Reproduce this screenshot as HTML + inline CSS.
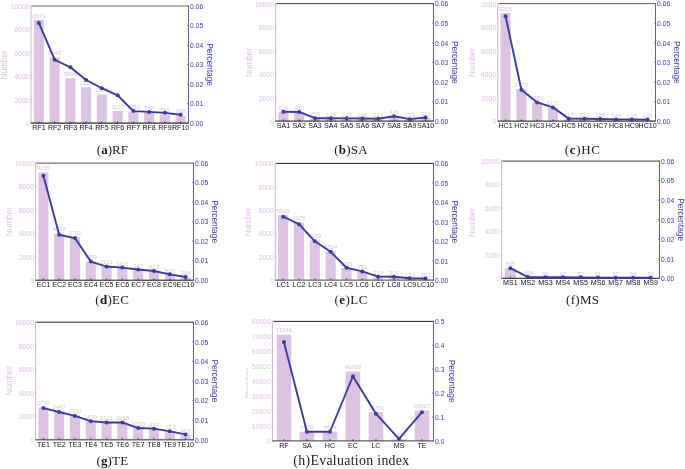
<!DOCTYPE html>
<html><head><meta charset="utf-8"><title>Evaluation index charts</title>
<style>
html,body{margin:0;padding:0;background:#fff;}
body{width:685px;height:469px;overflow:hidden;}
svg{display:block;font-family:"Liberation Sans", sans-serif;will-change:transform;}
</style></head><body>
<svg width="685" height="469" viewBox="0 0 685 469">
<rect width="685" height="469" fill="#fff"/>
<g>
<rect x="33.87" y="19.84" width="10" height="103.36" fill="#dcc3e2"/>
<rect x="49.62" y="57.69" width="10" height="65.51" fill="#dcc3e2"/>
<rect x="65.37" y="78.24" width="10" height="44.96" fill="#dcc3e2"/>
<rect x="81.12" y="87.25" width="10" height="35.95" fill="#dcc3e2"/>
<rect x="96.87" y="94.54" width="10" height="28.66" fill="#dcc3e2"/>
<rect x="112.62" y="110.97" width="10" height="12.23" fill="#dcc3e2"/>
<rect x="128.37" y="111.59" width="10" height="11.61" fill="#dcc3e2"/>
<rect x="144.12" y="112.79" width="10" height="10.41" fill="#dcc3e2"/>
<rect x="159.87" y="114.73" width="10" height="8.47" fill="#dcc3e2"/>
<rect x="175.62" y="115.74" width="10" height="7.46" fill="#dcc3e2"/>
<text x="38.88" y="17.54" font-size="5.9" fill="#dcc3e2" text-anchor="middle">8879</text>
<text x="54.62" y="55.39" font-size="5.9" fill="#dcc3e2" text-anchor="middle">5649</text>
<text x="70.38" y="75.94" font-size="5.9" fill="#dcc3e2" text-anchor="middle">3896</text>
<text x="86.12" y="84.95" font-size="5.9" fill="#dcc3e2" text-anchor="middle">3127</text>
<text x="101.88" y="92.24" font-size="5.9" fill="#dcc3e2" text-anchor="middle">2505</text>
<text x="117.62" y="108.67" font-size="5.9" fill="#dcc3e2" text-anchor="middle">1103</text>
<text x="133.38" y="109.29" font-size="5.9" fill="#dcc3e2" text-anchor="middle">1050</text>
<text x="149.12" y="110.49" font-size="5.9" fill="#dcc3e2" text-anchor="middle">948</text>
<text x="164.88" y="112.43" font-size="5.9" fill="#dcc3e2" text-anchor="middle">782</text>
<text x="180.62" y="113.44" font-size="5.9" fill="#dcc3e2" text-anchor="middle">696</text>
<line x1="31" y1="6" x2="188.5" y2="6" stroke="#6a6a6a" stroke-width="1.2"/>
<line x1="31" y1="5.5" x2="31" y2="123.7" stroke="#d0b8d6" stroke-width="1.1"/>
<line x1="31" y1="123.2" x2="32.5" y2="123.2" stroke="#d0b8d6" stroke-width="0.7"/>
<line x1="31" y1="99.76" x2="32.5" y2="99.76" stroke="#d0b8d6" stroke-width="0.7"/>
<line x1="31" y1="76.32" x2="32.5" y2="76.32" stroke="#d0b8d6" stroke-width="0.7"/>
<line x1="31" y1="52.88" x2="32.5" y2="52.88" stroke="#d0b8d6" stroke-width="0.7"/>
<line x1="31" y1="29.44" x2="32.5" y2="29.44" stroke="#d0b8d6" stroke-width="0.7"/>
<line x1="31" y1="6" x2="32.5" y2="6" stroke="#d0b8d6" stroke-width="0.7"/>
<line x1="31" y1="123.2" x2="188.5" y2="123.2" stroke="#2a2a2a" stroke-width="1.2"/>
<line x1="38.88" y1="123.2" x2="38.88" y2="121.4" stroke="#111" stroke-width="0.6"/>
<line x1="54.62" y1="123.2" x2="54.62" y2="121.4" stroke="#111" stroke-width="0.6"/>
<line x1="70.38" y1="123.2" x2="70.38" y2="121.4" stroke="#111" stroke-width="0.6"/>
<line x1="86.12" y1="123.2" x2="86.12" y2="121.4" stroke="#111" stroke-width="0.6"/>
<line x1="101.88" y1="123.2" x2="101.88" y2="121.4" stroke="#111" stroke-width="0.6"/>
<line x1="117.62" y1="123.2" x2="117.62" y2="121.4" stroke="#111" stroke-width="0.6"/>
<line x1="133.38" y1="123.2" x2="133.38" y2="121.4" stroke="#111" stroke-width="0.6"/>
<line x1="149.12" y1="123.2" x2="149.12" y2="121.4" stroke="#111" stroke-width="0.6"/>
<line x1="164.88" y1="123.2" x2="164.88" y2="121.4" stroke="#111" stroke-width="0.6"/>
<line x1="180.62" y1="123.2" x2="180.62" y2="121.4" stroke="#111" stroke-width="0.6"/>
<line x1="188.5" y1="5.5" x2="188.5" y2="123.7" stroke="#5656ad" stroke-width="0.95"/>
<line x1="187.1" y1="123.2" x2="188.5" y2="123.2" stroke="#5656ad" stroke-width="0.7"/>
<line x1="187.1" y1="103.67" x2="188.5" y2="103.67" stroke="#5656ad" stroke-width="0.7"/>
<line x1="187.1" y1="84.13" x2="188.5" y2="84.13" stroke="#5656ad" stroke-width="0.7"/>
<line x1="187.1" y1="64.6" x2="188.5" y2="64.6" stroke="#5656ad" stroke-width="0.7"/>
<line x1="187.1" y1="45.07" x2="188.5" y2="45.07" stroke="#5656ad" stroke-width="0.7"/>
<line x1="187.1" y1="25.53" x2="188.5" y2="25.53" stroke="#5656ad" stroke-width="0.7"/>
<line x1="187.1" y1="6" x2="188.5" y2="6" stroke="#5656ad" stroke-width="0.7"/>
<polyline fill="none" stroke="#3b3b9e" stroke-width="1.9" stroke-linejoin="round" points="38.88,22.95 54.62,59.74 70.38,67.31 86.12,80.03 101.88,88.24 117.62,95.27 133.38,111.08 149.12,111.88 164.88,112.85 180.62,114.8"/>
<circle cx="38.88" cy="22.95" r="2" fill="#3b3b9e"/>
<circle cx="54.62" cy="59.74" r="2" fill="#3b3b9e"/>
<circle cx="70.38" cy="67.31" r="2" fill="#3b3b9e"/>
<circle cx="86.12" cy="80.03" r="2" fill="#3b3b9e"/>
<circle cx="101.88" cy="88.24" r="2" fill="#3b3b9e"/>
<circle cx="117.62" cy="95.27" r="2" fill="#3b3b9e"/>
<circle cx="133.38" cy="111.08" r="2" fill="#3b3b9e"/>
<circle cx="149.12" cy="111.88" r="2" fill="#3b3b9e"/>
<circle cx="164.88" cy="112.85" r="2" fill="#3b3b9e"/>
<circle cx="180.62" cy="114.8" r="2" fill="#3b3b9e"/>
<g font-size="6.9" fill="#dcc3e2" text-anchor="end">
<text x="29.6" y="126.1">0</text>
<text x="29.6" y="102.66">2000</text>
<text x="29.6" y="79.22">4000</text>
<text x="29.6" y="55.78">6000</text>
<text x="29.6" y="32.34">8000</text>
<text x="29.6" y="8.9">10000</text>
</g>
<g font-size="6.7" fill="#3b3b9e">
<text x="190.1" y="126">0.00</text>
<text x="190.1" y="106.47">0.01</text>
<text x="190.1" y="86.93">0.02</text>
<text x="190.1" y="67.4">0.03</text>
<text x="190.1" y="47.87">0.04</text>
<text x="190.1" y="28.33">0.05</text>
<text x="190.1" y="8.8">0.06</text>
</g>
<g font-size="7.1" fill="#111" text-anchor="middle">
<text x="38.88" y="130">RF1</text>
<text x="54.62" y="130">RF2</text>
<text x="70.38" y="130">RF3</text>
<text x="86.12" y="130">RF4</text>
<text x="101.88" y="130">RF5</text>
<text x="117.62" y="130">RF6</text>
<text x="133.38" y="130">RF7</text>
<text x="149.12" y="130">RF8</text>
<text x="164.88" y="130">RF9</text>
<text x="180.62" y="130">RF10</text>
</g>
<text transform="translate(7,64.6) rotate(-90)" font-size="8.2" fill="#dcc3e2" text-anchor="middle">Number</text>
<text transform="translate(207,64.6) rotate(90)" font-size="8.4" fill="#3b3b9e" text-anchor="middle">Percentage</text>
</g>
<g>
<rect x="278.38" y="112.16" width="10.03" height="8.94" fill="#dcc3e2"/>
<rect x="294.18" y="112.28" width="10.03" height="8.82" fill="#dcc3e2"/>
<rect x="309.98" y="118.77" width="10.03" height="2.33" fill="#dcc3e2"/>
<rect x="325.78" y="118.89" width="10.03" height="2.21" fill="#dcc3e2"/>
<rect x="341.58" y="118.94" width="10.03" height="2.16" fill="#dcc3e2"/>
<rect x="357.38" y="119.04" width="10.03" height="2.06" fill="#dcc3e2"/>
<rect x="373.18" y="119.3" width="10.03" height="1.8" fill="#dcc3e2"/>
<rect x="388.98" y="116.79" width="10.03" height="4.31" fill="#dcc3e2"/>
<rect x="404.78" y="119.79" width="10.03" height="1.31" fill="#dcc3e2"/>
<rect x="420.58" y="118.13" width="10.03" height="2.97" fill="#dcc3e2"/>
<text x="283.4" y="109.86" font-size="5.9" fill="#dcc3e2" text-anchor="middle">820</text>
<text x="299.2" y="109.98" font-size="5.9" fill="#dcc3e2" text-anchor="middle">810</text>
<text x="315" y="116.47" font-size="5.9" fill="#dcc3e2" text-anchor="middle">258</text>
<text x="330.8" y="116.59" font-size="5.9" fill="#dcc3e2" text-anchor="middle">248</text>
<text x="346.6" y="116.64" font-size="5.9" fill="#dcc3e2" text-anchor="middle">243</text>
<text x="362.4" y="116.74" font-size="5.9" fill="#dcc3e2" text-anchor="middle">235</text>
<text x="378.2" y="117" font-size="5.9" fill="#dcc3e2" text-anchor="middle">213</text>
<text x="394" y="114.49" font-size="5.9" fill="#dcc3e2" text-anchor="middle">426</text>
<text x="409.8" y="117.49" font-size="5.9" fill="#dcc3e2" text-anchor="middle">171</text>
<text x="425.6" y="115.83" font-size="5.9" fill="#dcc3e2" text-anchor="middle">312</text>
<line x1="275.5" y1="3.6" x2="433.5" y2="3.6" stroke="#3a3a3a" stroke-width="1"/>
<line x1="275.5" y1="3.1" x2="275.5" y2="121.6" stroke="#d0b8d6" stroke-width="1.1"/>
<line x1="275.5" y1="121.1" x2="277" y2="121.1" stroke="#d0b8d6" stroke-width="0.7"/>
<line x1="275.5" y1="97.6" x2="277" y2="97.6" stroke="#d0b8d6" stroke-width="0.7"/>
<line x1="275.5" y1="74.1" x2="277" y2="74.1" stroke="#d0b8d6" stroke-width="0.7"/>
<line x1="275.5" y1="50.6" x2="277" y2="50.6" stroke="#d0b8d6" stroke-width="0.7"/>
<line x1="275.5" y1="27.1" x2="277" y2="27.1" stroke="#d0b8d6" stroke-width="0.7"/>
<line x1="275.5" y1="3.6" x2="277" y2="3.6" stroke="#d0b8d6" stroke-width="0.7"/>
<line x1="275.5" y1="121.1" x2="433.5" y2="121.1" stroke="#111" stroke-width="1"/>
<line x1="283.4" y1="121.1" x2="283.4" y2="119.3" stroke="#111" stroke-width="0.6"/>
<line x1="299.2" y1="121.1" x2="299.2" y2="119.3" stroke="#111" stroke-width="0.6"/>
<line x1="315" y1="121.1" x2="315" y2="119.3" stroke="#111" stroke-width="0.6"/>
<line x1="330.8" y1="121.1" x2="330.8" y2="119.3" stroke="#111" stroke-width="0.6"/>
<line x1="346.6" y1="121.1" x2="346.6" y2="119.3" stroke="#111" stroke-width="0.6"/>
<line x1="362.4" y1="121.1" x2="362.4" y2="119.3" stroke="#111" stroke-width="0.6"/>
<line x1="378.2" y1="121.1" x2="378.2" y2="119.3" stroke="#111" stroke-width="0.6"/>
<line x1="394" y1="121.1" x2="394" y2="119.3" stroke="#111" stroke-width="0.6"/>
<line x1="409.8" y1="121.1" x2="409.8" y2="119.3" stroke="#111" stroke-width="0.6"/>
<line x1="425.6" y1="121.1" x2="425.6" y2="119.3" stroke="#111" stroke-width="0.6"/>
<line x1="433.5" y1="3.1" x2="433.5" y2="121.6" stroke="#5656ad" stroke-width="0.95"/>
<line x1="432.1" y1="121.1" x2="433.5" y2="121.1" stroke="#5656ad" stroke-width="0.7"/>
<line x1="432.1" y1="101.52" x2="433.5" y2="101.52" stroke="#5656ad" stroke-width="0.7"/>
<line x1="432.1" y1="81.93" x2="433.5" y2="81.93" stroke="#5656ad" stroke-width="0.7"/>
<line x1="432.1" y1="62.35" x2="433.5" y2="62.35" stroke="#5656ad" stroke-width="0.7"/>
<line x1="432.1" y1="42.77" x2="433.5" y2="42.77" stroke="#5656ad" stroke-width="0.7"/>
<line x1="432.1" y1="23.18" x2="433.5" y2="23.18" stroke="#5656ad" stroke-width="0.7"/>
<line x1="432.1" y1="3.6" x2="433.5" y2="3.6" stroke="#5656ad" stroke-width="0.7"/>
<polyline fill="none" stroke="#3b3b9e" stroke-width="1.9" stroke-linejoin="round" points="283.4,111.82 299.2,111.93 315,118.18 330.8,118.29 346.6,118.35 362.4,118.44 378.2,118.69 394,116.28 409.8,119.16 425.6,117.57"/>
<circle cx="283.4" cy="111.82" r="2" fill="#3b3b9e"/>
<circle cx="299.2" cy="111.93" r="2" fill="#3b3b9e"/>
<circle cx="315" cy="118.18" r="2" fill="#3b3b9e"/>
<circle cx="330.8" cy="118.29" r="2" fill="#3b3b9e"/>
<circle cx="346.6" cy="118.35" r="2" fill="#3b3b9e"/>
<circle cx="362.4" cy="118.44" r="2" fill="#3b3b9e"/>
<circle cx="378.2" cy="118.69" r="2" fill="#3b3b9e"/>
<circle cx="394" cy="116.28" r="2" fill="#3b3b9e"/>
<circle cx="409.8" cy="119.16" r="2" fill="#3b3b9e"/>
<circle cx="425.6" cy="117.57" r="2" fill="#3b3b9e"/>
<g font-size="6.9" fill="#dcc3e2" text-anchor="end">
<text x="274.1" y="124">0</text>
<text x="274.1" y="100.5">2000</text>
<text x="274.1" y="77">4000</text>
<text x="274.1" y="53.5">6000</text>
<text x="274.1" y="30">8000</text>
<text x="274.1" y="6.5">10000</text>
</g>
<g font-size="6.7" fill="#3b3b9e">
<text x="435.1" y="123.9">0.00</text>
<text x="435.1" y="104.32">0.01</text>
<text x="435.1" y="84.73">0.02</text>
<text x="435.1" y="65.15">0.03</text>
<text x="435.1" y="45.57">0.04</text>
<text x="435.1" y="25.98">0.05</text>
<text x="435.1" y="6.4">0.06</text>
</g>
<g font-size="7.1" fill="#111" text-anchor="middle">
<text x="283.4" y="127.9">SA1</text>
<text x="299.2" y="127.9">SA2</text>
<text x="315" y="127.9">SA3</text>
<text x="330.8" y="127.9">SA4</text>
<text x="346.6" y="127.9">SA5</text>
<text x="362.4" y="127.9">SA6</text>
<text x="378.2" y="127.9">SA7</text>
<text x="394" y="127.9">SA8</text>
<text x="409.8" y="127.9">SA9</text>
<text x="425.6" y="127.9">SA10</text>
</g>
<text transform="translate(251.5,62.35) rotate(-90)" font-size="8.2" fill="#dcc3e2" text-anchor="middle">Number</text>
<text transform="translate(452,62.35) rotate(90)" font-size="8.4" fill="#3b3b9e" text-anchor="middle">Percentage</text>
</g>
<clipPath id="clc"><rect x="480.6" y="0" width="300" height="469"/></clipPath>
<g>
<rect x="500.58" y="13.05" width="10.02" height="108.05" fill="#dcc3e2"/>
<rect x="516.36" y="89.19" width="10.02" height="31.91" fill="#dcc3e2"/>
<rect x="532.14" y="102.38" width="10.02" height="18.72" fill="#dcc3e2"/>
<rect x="547.92" y="107.57" width="10.02" height="13.53" fill="#dcc3e2"/>
<rect x="563.7" y="119.25" width="10.02" height="1.85" fill="#dcc3e2"/>
<rect x="579.48" y="119.31" width="10.02" height="1.79" fill="#dcc3e2"/>
<rect x="595.26" y="119.69" width="10.02" height="1.41" fill="#dcc3e2"/>
<rect x="611.04" y="120.06" width="10.02" height="1.04" fill="#dcc3e2"/>
<rect x="626.82" y="120.21" width="10.02" height="0.89" fill="#dcc3e2"/>
<rect x="642.6" y="120.24" width="10.02" height="0.86" fill="#dcc3e2"/>
<text x="505.59" y="10.75" font-size="5.9" fill="#dcc3e2" text-anchor="middle">9255</text>
<text x="521.37" y="86.89" font-size="5.9" fill="#dcc3e2" text-anchor="middle">2775</text>
<text x="537.15" y="100.08" font-size="5.9" fill="#dcc3e2" text-anchor="middle">1653</text>
<text x="552.93" y="105.27" font-size="5.9" fill="#dcc3e2" text-anchor="middle">1211</text>
<text x="568.71" y="116.95" font-size="5.9" fill="#dcc3e2" text-anchor="middle">217</text>
<text x="584.49" y="117.01" font-size="5.9" fill="#dcc3e2" text-anchor="middle">212</text>
<text x="600.27" y="117.39" font-size="5.9" fill="#dcc3e2" text-anchor="middle">180</text>
<text x="616.05" y="117.76" font-size="5.9" fill="#dcc3e2" text-anchor="middle">148</text>
<text x="631.83" y="117.91" font-size="5.9" fill="#dcc3e2" text-anchor="middle">135</text>
<text x="647.61" y="117.94" font-size="5.9" fill="#dcc3e2" text-anchor="middle">133</text>
<line x1="497.7" y1="3.6" x2="655.5" y2="3.6" stroke="#555" stroke-width="1"/>
<line x1="497.7" y1="3.1" x2="497.7" y2="121.6" stroke="#d0b8d6" stroke-width="1.1"/>
<line x1="497.7" y1="121.1" x2="499.2" y2="121.1" stroke="#d0b8d6" stroke-width="0.7"/>
<line x1="497.7" y1="97.6" x2="499.2" y2="97.6" stroke="#d0b8d6" stroke-width="0.7"/>
<line x1="497.7" y1="74.1" x2="499.2" y2="74.1" stroke="#d0b8d6" stroke-width="0.7"/>
<line x1="497.7" y1="50.6" x2="499.2" y2="50.6" stroke="#d0b8d6" stroke-width="0.7"/>
<line x1="497.7" y1="27.1" x2="499.2" y2="27.1" stroke="#d0b8d6" stroke-width="0.7"/>
<line x1="497.7" y1="3.6" x2="499.2" y2="3.6" stroke="#d0b8d6" stroke-width="0.7"/>
<line x1="497.7" y1="121.1" x2="655.5" y2="121.1" stroke="#111" stroke-width="1"/>
<line x1="505.59" y1="121.1" x2="505.59" y2="119.3" stroke="#111" stroke-width="0.6"/>
<line x1="521.37" y1="121.1" x2="521.37" y2="119.3" stroke="#111" stroke-width="0.6"/>
<line x1="537.15" y1="121.1" x2="537.15" y2="119.3" stroke="#111" stroke-width="0.6"/>
<line x1="552.93" y1="121.1" x2="552.93" y2="119.3" stroke="#111" stroke-width="0.6"/>
<line x1="568.71" y1="121.1" x2="568.71" y2="119.3" stroke="#111" stroke-width="0.6"/>
<line x1="584.49" y1="121.1" x2="584.49" y2="119.3" stroke="#111" stroke-width="0.6"/>
<line x1="600.27" y1="121.1" x2="600.27" y2="119.3" stroke="#111" stroke-width="0.6"/>
<line x1="616.05" y1="121.1" x2="616.05" y2="119.3" stroke="#111" stroke-width="0.6"/>
<line x1="631.83" y1="121.1" x2="631.83" y2="119.3" stroke="#111" stroke-width="0.6"/>
<line x1="647.61" y1="121.1" x2="647.61" y2="119.3" stroke="#111" stroke-width="0.6"/>
<line x1="655.5" y1="3.1" x2="655.5" y2="121.6" stroke="#5656ad" stroke-width="0.95"/>
<line x1="654.1" y1="121.1" x2="655.5" y2="121.1" stroke="#5656ad" stroke-width="0.7"/>
<line x1="654.1" y1="101.52" x2="655.5" y2="101.52" stroke="#5656ad" stroke-width="0.7"/>
<line x1="654.1" y1="81.93" x2="655.5" y2="81.93" stroke="#5656ad" stroke-width="0.7"/>
<line x1="654.1" y1="62.35" x2="655.5" y2="62.35" stroke="#5656ad" stroke-width="0.7"/>
<line x1="654.1" y1="42.77" x2="655.5" y2="42.77" stroke="#5656ad" stroke-width="0.7"/>
<line x1="654.1" y1="23.18" x2="655.5" y2="23.18" stroke="#5656ad" stroke-width="0.7"/>
<line x1="654.1" y1="3.6" x2="655.5" y2="3.6" stroke="#5656ad" stroke-width="0.7"/>
<polyline fill="none" stroke="#3b3b9e" stroke-width="1.9" stroke-linejoin="round" points="505.59,16.33 521.37,89.69 537.15,102.39 552.93,107.39 568.71,118.64 584.49,118.7 600.27,119.06 616.05,119.42 631.83,119.57 647.61,119.59"/>
<circle cx="505.59" cy="16.33" r="2" fill="#3b3b9e"/>
<circle cx="521.37" cy="89.69" r="2" fill="#3b3b9e"/>
<circle cx="537.15" cy="102.39" r="2" fill="#3b3b9e"/>
<circle cx="552.93" cy="107.39" r="2" fill="#3b3b9e"/>
<circle cx="568.71" cy="118.64" r="2" fill="#3b3b9e"/>
<circle cx="584.49" cy="118.7" r="2" fill="#3b3b9e"/>
<circle cx="600.27" cy="119.06" r="2" fill="#3b3b9e"/>
<circle cx="616.05" cy="119.42" r="2" fill="#3b3b9e"/>
<circle cx="631.83" cy="119.57" r="2" fill="#3b3b9e"/>
<circle cx="647.61" cy="119.59" r="2" fill="#3b3b9e"/>
<g font-size="6.9" fill="#dcc3e2" text-anchor="end" clip-path="url(#clc)">
<text x="496.3" y="124">0</text>
<text x="496.3" y="100.5">2000</text>
<text x="496.3" y="77">4000</text>
<text x="496.3" y="53.5">6000</text>
<text x="496.3" y="30">8000</text>
<text x="496.3" y="6.5">10000</text>
</g>
<g font-size="6.7" fill="#3b3b9e">
<text x="657.1" y="123.9">0.00</text>
<text x="657.1" y="104.32">0.01</text>
<text x="657.1" y="84.73">0.02</text>
<text x="657.1" y="65.15">0.03</text>
<text x="657.1" y="45.57">0.04</text>
<text x="657.1" y="25.98">0.05</text>
<text x="657.1" y="6.4">0.06</text>
</g>
<g font-size="7.1" fill="#111" text-anchor="middle">
<text x="505.59" y="127.9">HC1</text>
<text x="521.37" y="127.9">HC2</text>
<text x="537.15" y="127.9">HC3</text>
<text x="552.93" y="127.9">HC4</text>
<text x="568.71" y="127.9">HC5</text>
<text x="584.49" y="127.9">HC6</text>
<text x="600.27" y="127.9">HC7</text>
<text x="616.05" y="127.9">HC8</text>
<text x="631.83" y="127.9">HC9</text>
<text x="647.61" y="127.9">HC10</text>
</g>
<text transform="translate(474.6,62.35) rotate(-90)" font-size="8.2" fill="#dcc3e2" text-anchor="middle">Number</text>
<text transform="translate(674,62.35) rotate(90)" font-size="8.4" fill="#3b3b9e" text-anchor="middle">Percentage</text>
</g>
<g>
<rect x="38.38" y="172.52" width="10.03" height="107.68" fill="#dcc3e2"/>
<rect x="54.18" y="233.73" width="10.03" height="46.47" fill="#dcc3e2"/>
<rect x="69.98" y="237.2" width="10.03" height="43" fill="#dcc3e2"/>
<rect x="85.78" y="261.54" width="10.03" height="18.66" fill="#dcc3e2"/>
<rect x="101.58" y="266.72" width="10.03" height="13.48" fill="#dcc3e2"/>
<rect x="117.38" y="267.83" width="10.03" height="12.37" fill="#dcc3e2"/>
<rect x="133.18" y="269.81" width="10.03" height="10.39" fill="#dcc3e2"/>
<rect x="148.98" y="271.3" width="10.03" height="8.9" fill="#dcc3e2"/>
<rect x="164.78" y="274.81" width="10.03" height="5.39" fill="#dcc3e2"/>
<rect x="180.58" y="277.55" width="10.03" height="2.65" fill="#dcc3e2"/>
<text x="43.4" y="170.22" font-size="5.9" fill="#dcc3e2" text-anchor="middle">9255</text>
<text x="59.2" y="231.43" font-size="5.9" fill="#dcc3e2" text-anchor="middle">4028</text>
<text x="75" y="234.9" font-size="5.9" fill="#dcc3e2" text-anchor="middle">3732</text>
<text x="90.8" y="259.24" font-size="5.9" fill="#dcc3e2" text-anchor="middle">1653</text>
<text x="106.6" y="264.42" font-size="5.9" fill="#dcc3e2" text-anchor="middle">1211</text>
<text x="122.4" y="265.53" font-size="5.9" fill="#dcc3e2" text-anchor="middle">1116</text>
<text x="138.2" y="267.51" font-size="5.9" fill="#dcc3e2" text-anchor="middle">947</text>
<text x="154" y="269" font-size="5.9" fill="#dcc3e2" text-anchor="middle">820</text>
<text x="169.8" y="272.51" font-size="5.9" fill="#dcc3e2" text-anchor="middle">520</text>
<text x="185.6" y="275.25" font-size="5.9" fill="#dcc3e2" text-anchor="middle">286</text>
<line x1="35.5" y1="163.1" x2="193.5" y2="163.1" stroke="#555" stroke-width="1"/>
<line x1="35.5" y1="162.6" x2="35.5" y2="280.7" stroke="#d0b8d6" stroke-width="1.1"/>
<line x1="35.5" y1="280.2" x2="37" y2="280.2" stroke="#d0b8d6" stroke-width="0.7"/>
<line x1="35.5" y1="256.78" x2="37" y2="256.78" stroke="#d0b8d6" stroke-width="0.7"/>
<line x1="35.5" y1="233.36" x2="37" y2="233.36" stroke="#d0b8d6" stroke-width="0.7"/>
<line x1="35.5" y1="209.94" x2="37" y2="209.94" stroke="#d0b8d6" stroke-width="0.7"/>
<line x1="35.5" y1="186.52" x2="37" y2="186.52" stroke="#d0b8d6" stroke-width="0.7"/>
<line x1="35.5" y1="163.1" x2="37" y2="163.1" stroke="#d0b8d6" stroke-width="0.7"/>
<line x1="35.5" y1="280.2" x2="193.5" y2="280.2" stroke="#111" stroke-width="1"/>
<line x1="43.4" y1="280.2" x2="43.4" y2="278.4" stroke="#111" stroke-width="0.6"/>
<line x1="59.2" y1="280.2" x2="59.2" y2="278.4" stroke="#111" stroke-width="0.6"/>
<line x1="75" y1="280.2" x2="75" y2="278.4" stroke="#111" stroke-width="0.6"/>
<line x1="90.8" y1="280.2" x2="90.8" y2="278.4" stroke="#111" stroke-width="0.6"/>
<line x1="106.6" y1="280.2" x2="106.6" y2="278.4" stroke="#111" stroke-width="0.6"/>
<line x1="122.4" y1="280.2" x2="122.4" y2="278.4" stroke="#111" stroke-width="0.6"/>
<line x1="138.2" y1="280.2" x2="138.2" y2="278.4" stroke="#111" stroke-width="0.6"/>
<line x1="154" y1="280.2" x2="154" y2="278.4" stroke="#111" stroke-width="0.6"/>
<line x1="169.8" y1="280.2" x2="169.8" y2="278.4" stroke="#111" stroke-width="0.6"/>
<line x1="185.6" y1="280.2" x2="185.6" y2="278.4" stroke="#111" stroke-width="0.6"/>
<line x1="193.5" y1="162.6" x2="193.5" y2="280.7" stroke="#5656ad" stroke-width="0.95"/>
<line x1="192.1" y1="280.2" x2="193.5" y2="280.2" stroke="#5656ad" stroke-width="0.7"/>
<line x1="192.1" y1="260.68" x2="193.5" y2="260.68" stroke="#5656ad" stroke-width="0.7"/>
<line x1="192.1" y1="241.17" x2="193.5" y2="241.17" stroke="#5656ad" stroke-width="0.7"/>
<line x1="192.1" y1="221.65" x2="193.5" y2="221.65" stroke="#5656ad" stroke-width="0.7"/>
<line x1="192.1" y1="202.13" x2="193.5" y2="202.13" stroke="#5656ad" stroke-width="0.7"/>
<line x1="192.1" y1="182.62" x2="193.5" y2="182.62" stroke="#5656ad" stroke-width="0.7"/>
<line x1="192.1" y1="163.1" x2="193.5" y2="163.1" stroke="#5656ad" stroke-width="0.7"/>
<polyline fill="none" stroke="#3b3b9e" stroke-width="1.9" stroke-linejoin="round" points="43.4,175.79 59.2,234.76 75,238.1 90.8,261.55 106.6,266.54 122.4,267.61 138.2,269.52 154,270.95 169.8,274.33 185.6,276.97"/>
<circle cx="43.4" cy="175.79" r="2" fill="#3b3b9e"/>
<circle cx="59.2" cy="234.76" r="2" fill="#3b3b9e"/>
<circle cx="75" cy="238.1" r="2" fill="#3b3b9e"/>
<circle cx="90.8" cy="261.55" r="2" fill="#3b3b9e"/>
<circle cx="106.6" cy="266.54" r="2" fill="#3b3b9e"/>
<circle cx="122.4" cy="267.61" r="2" fill="#3b3b9e"/>
<circle cx="138.2" cy="269.52" r="2" fill="#3b3b9e"/>
<circle cx="154" cy="270.95" r="2" fill="#3b3b9e"/>
<circle cx="169.8" cy="274.33" r="2" fill="#3b3b9e"/>
<circle cx="185.6" cy="276.97" r="2" fill="#3b3b9e"/>
<g font-size="6.9" fill="#dcc3e2" text-anchor="end">
<text x="34.1" y="283.1">0</text>
<text x="34.1" y="259.68">2000</text>
<text x="34.1" y="236.26">4000</text>
<text x="34.1" y="212.84">6000</text>
<text x="34.1" y="189.42">8000</text>
<text x="34.1" y="166">10000</text>
</g>
<g font-size="6.7" fill="#3b3b9e">
<text x="195.1" y="283">0.00</text>
<text x="195.1" y="263.48">0.01</text>
<text x="195.1" y="243.97">0.02</text>
<text x="195.1" y="224.45">0.03</text>
<text x="195.1" y="204.93">0.04</text>
<text x="195.1" y="185.42">0.05</text>
<text x="195.1" y="165.9">0.06</text>
</g>
<g font-size="7.1" fill="#111" text-anchor="middle">
<text x="43.4" y="287">EC1</text>
<text x="59.2" y="287">EC2</text>
<text x="75" y="287">EC3</text>
<text x="90.8" y="287">EC4</text>
<text x="106.6" y="287">EC5</text>
<text x="122.4" y="287">EC6</text>
<text x="138.2" y="287">EC7</text>
<text x="154" y="287">EC8</text>
<text x="169.8" y="287">EC9</text>
<text x="185.6" y="287">EC10</text>
</g>
<text transform="translate(11.5,221.65) rotate(-90)" font-size="8.2" fill="#dcc3e2" text-anchor="middle">Number</text>
<text transform="translate(212,221.65) rotate(90)" font-size="8.4" fill="#3b3b9e" text-anchor="middle">Percentage</text>
</g>
<g>
<rect x="278.19" y="214.92" width="10.05" height="65.28" fill="#dcc3e2"/>
<rect x="294.01" y="222.79" width="10.05" height="57.41" fill="#dcc3e2"/>
<rect x="309.83" y="240.5" width="10.05" height="39.7" fill="#dcc3e2"/>
<rect x="325.65" y="251.42" width="10.05" height="28.78" fill="#dcc3e2"/>
<rect x="341.47" y="268.02" width="10.05" height="12.18" fill="#dcc3e2"/>
<rect x="357.29" y="271.77" width="10.05" height="8.43" fill="#dcc3e2"/>
<rect x="373.11" y="277.23" width="10.05" height="2.97" fill="#dcc3e2"/>
<rect x="388.93" y="277.35" width="10.05" height="2.85" fill="#dcc3e2"/>
<rect x="404.75" y="278.91" width="10.05" height="1.29" fill="#dcc3e2"/>
<rect x="420.57" y="279.11" width="10.05" height="1.09" fill="#dcc3e2"/>
<text x="283.21" y="212.62" font-size="5.9" fill="#dcc3e2" text-anchor="middle">5649</text>
<text x="299.03" y="220.49" font-size="5.9" fill="#dcc3e2" text-anchor="middle">4975</text>
<text x="314.85" y="238.2" font-size="5.9" fill="#dcc3e2" text-anchor="middle">3459</text>
<text x="330.67" y="249.12" font-size="5.9" fill="#dcc3e2" text-anchor="middle">2524</text>
<text x="346.49" y="265.72" font-size="5.9" fill="#dcc3e2" text-anchor="middle">1103</text>
<text x="362.31" y="269.47" font-size="5.9" fill="#dcc3e2" text-anchor="middle">782</text>
<text x="378.13" y="274.93" font-size="5.9" fill="#dcc3e2" text-anchor="middle">314</text>
<text x="393.95" y="275.05" font-size="5.9" fill="#dcc3e2" text-anchor="middle">304</text>
<text x="409.77" y="276.61" font-size="5.9" fill="#dcc3e2" text-anchor="middle">170</text>
<text x="425.59" y="276.81" font-size="5.9" fill="#dcc3e2" text-anchor="middle">153</text>
<line x1="275.3" y1="163.4" x2="433.5" y2="163.4" stroke="#222" stroke-width="1"/>
<line x1="275.3" y1="162.9" x2="275.3" y2="280.7" stroke="#d0b8d6" stroke-width="1.1"/>
<line x1="275.3" y1="280.2" x2="276.8" y2="280.2" stroke="#d0b8d6" stroke-width="0.7"/>
<line x1="275.3" y1="256.84" x2="276.8" y2="256.84" stroke="#d0b8d6" stroke-width="0.7"/>
<line x1="275.3" y1="233.48" x2="276.8" y2="233.48" stroke="#d0b8d6" stroke-width="0.7"/>
<line x1="275.3" y1="210.12" x2="276.8" y2="210.12" stroke="#d0b8d6" stroke-width="0.7"/>
<line x1="275.3" y1="186.76" x2="276.8" y2="186.76" stroke="#d0b8d6" stroke-width="0.7"/>
<line x1="275.3" y1="163.4" x2="276.8" y2="163.4" stroke="#d0b8d6" stroke-width="0.7"/>
<line x1="275.3" y1="280.2" x2="433.5" y2="280.2" stroke="#666" stroke-width="1.3"/>
<line x1="283.21" y1="280.2" x2="283.21" y2="278.4" stroke="#111" stroke-width="0.6"/>
<line x1="299.03" y1="280.2" x2="299.03" y2="278.4" stroke="#111" stroke-width="0.6"/>
<line x1="314.85" y1="280.2" x2="314.85" y2="278.4" stroke="#111" stroke-width="0.6"/>
<line x1="330.67" y1="280.2" x2="330.67" y2="278.4" stroke="#111" stroke-width="0.6"/>
<line x1="346.49" y1="280.2" x2="346.49" y2="278.4" stroke="#111" stroke-width="0.6"/>
<line x1="362.31" y1="280.2" x2="362.31" y2="278.4" stroke="#111" stroke-width="0.6"/>
<line x1="378.13" y1="280.2" x2="378.13" y2="278.4" stroke="#111" stroke-width="0.6"/>
<line x1="393.95" y1="280.2" x2="393.95" y2="278.4" stroke="#111" stroke-width="0.6"/>
<line x1="409.77" y1="280.2" x2="409.77" y2="278.4" stroke="#111" stroke-width="0.6"/>
<line x1="425.59" y1="280.2" x2="425.59" y2="278.4" stroke="#111" stroke-width="0.6"/>
<line x1="433.5" y1="162.9" x2="433.5" y2="280.7" stroke="#5656ad" stroke-width="0.95"/>
<line x1="432.1" y1="280.2" x2="433.5" y2="280.2" stroke="#5656ad" stroke-width="0.7"/>
<line x1="432.1" y1="260.73" x2="433.5" y2="260.73" stroke="#5656ad" stroke-width="0.7"/>
<line x1="432.1" y1="241.27" x2="433.5" y2="241.27" stroke="#5656ad" stroke-width="0.7"/>
<line x1="432.1" y1="221.8" x2="433.5" y2="221.8" stroke="#5656ad" stroke-width="0.7"/>
<line x1="432.1" y1="202.33" x2="433.5" y2="202.33" stroke="#5656ad" stroke-width="0.7"/>
<line x1="432.1" y1="182.87" x2="433.5" y2="182.87" stroke="#5656ad" stroke-width="0.7"/>
<line x1="432.1" y1="163.4" x2="433.5" y2="163.4" stroke="#5656ad" stroke-width="0.7"/>
<polyline fill="none" stroke="#3b3b9e" stroke-width="1.9" stroke-linejoin="round" points="283.21,216.64 299.03,224.22 314.85,241.28 330.67,251.8 346.49,267.79 362.31,271.4 378.13,276.67 393.95,276.78 409.77,278.29 425.59,278.48"/>
<circle cx="283.21" cy="216.64" r="2" fill="#3b3b9e"/>
<circle cx="299.03" cy="224.22" r="2" fill="#3b3b9e"/>
<circle cx="314.85" cy="241.28" r="2" fill="#3b3b9e"/>
<circle cx="330.67" cy="251.8" r="2" fill="#3b3b9e"/>
<circle cx="346.49" cy="267.79" r="2" fill="#3b3b9e"/>
<circle cx="362.31" cy="271.4" r="2" fill="#3b3b9e"/>
<circle cx="378.13" cy="276.67" r="2" fill="#3b3b9e"/>
<circle cx="393.95" cy="276.78" r="2" fill="#3b3b9e"/>
<circle cx="409.77" cy="278.29" r="2" fill="#3b3b9e"/>
<circle cx="425.59" cy="278.48" r="2" fill="#3b3b9e"/>
<g font-size="6.9" fill="#dcc3e2" text-anchor="end">
<text x="273.9" y="283.1">0</text>
<text x="273.9" y="259.74">2000</text>
<text x="273.9" y="236.38">4000</text>
<text x="273.9" y="213.02">6000</text>
<text x="273.9" y="189.66">8000</text>
<text x="273.9" y="166.3">10000</text>
</g>
<g font-size="6.7" fill="#3b3b9e">
<text x="435.1" y="283">0.00</text>
<text x="435.1" y="263.53">0.01</text>
<text x="435.1" y="244.07">0.02</text>
<text x="435.1" y="224.6">0.03</text>
<text x="435.1" y="205.13">0.04</text>
<text x="435.1" y="185.67">0.05</text>
<text x="435.1" y="166.2">0.06</text>
</g>
<g font-size="7.1" fill="#111" text-anchor="middle">
<text x="283.21" y="287">LC1</text>
<text x="299.03" y="287">LC2</text>
<text x="314.85" y="287">LC3</text>
<text x="330.67" y="287">LC4</text>
<text x="346.49" y="287">LC5</text>
<text x="362.31" y="287">LC6</text>
<text x="378.13" y="287">LC7</text>
<text x="393.95" y="287">LC8</text>
<text x="409.77" y="287">LC9</text>
<text x="425.59" y="287">LC10</text>
</g>
<text transform="translate(251.3,221.8) rotate(-90)" font-size="8.2" fill="#dcc3e2" text-anchor="middle">Number</text>
<text transform="translate(452,221.8) rotate(90)" font-size="8.4" fill="#3b3b9e" text-anchor="middle">Percentage</text>
</g>
<g>
<rect x="504.8" y="268.51" width="11.14" height="9.79" fill="#dcc3e2"/>
<rect x="522.35" y="277.73" width="11.14" height="0.57" fill="#dcc3e2"/>
<rect x="539.89" y="277.89" width="11.14" height="0.41" fill="#dcc3e2"/>
<rect x="557.44" y="277.98" width="11.14" height="0.32" fill="#dcc3e2"/>
<rect x="574.98" y="278.04" width="11.14" height="0.26" fill="#dcc3e2"/>
<rect x="592.52" y="278.29" width="11.14" height="0.01" fill="#dcc3e2"/>
<rect x="610.07" y="278.33" width="11.14" height="0" fill="#dcc3e2"/>
<rect x="627.61" y="278.34" width="11.14" height="0" fill="#dcc3e2"/>
<rect x="645.16" y="278.38" width="11.14" height="0" fill="#dcc3e2"/>
<text x="510.37" y="266.21" font-size="5.9" fill="#dcc3e2" text-anchor="middle">895</text>
<text x="527.92" y="275.43" font-size="5.9" fill="#dcc3e2" text-anchor="middle">108</text>
<text x="545.46" y="275.59" font-size="5.9" fill="#dcc3e2" text-anchor="middle">95</text>
<text x="563.01" y="275.68" font-size="5.9" fill="#dcc3e2" text-anchor="middle">87</text>
<text x="580.55" y="275.74" font-size="5.9" fill="#dcc3e2" text-anchor="middle">82</text>
<text x="598.09" y="275.99" font-size="5.9" fill="#dcc3e2" text-anchor="middle">61</text>
<text x="615.64" y="276.03" font-size="5.9" fill="#dcc3e2" text-anchor="middle">57</text>
<text x="633.18" y="276.04" font-size="5.9" fill="#dcc3e2" text-anchor="middle">56</text>
<text x="650.73" y="276.08" font-size="5.9" fill="#dcc3e2" text-anchor="middle">53</text>
<line x1="501.6" y1="161.1" x2="659.5" y2="161.1" stroke="#3a3a3a" stroke-width="1"/>
<line x1="501.6" y1="160.6" x2="501.6" y2="278.8" stroke="#d0b8d6" stroke-width="1.1"/>
<line x1="501.6" y1="278.3" x2="503.1" y2="278.3" stroke="#d0b8d6" stroke-width="0.7"/>
<line x1="501.6" y1="254.86" x2="503.1" y2="254.86" stroke="#d0b8d6" stroke-width="0.7"/>
<line x1="501.6" y1="231.42" x2="503.1" y2="231.42" stroke="#d0b8d6" stroke-width="0.7"/>
<line x1="501.6" y1="207.98" x2="503.1" y2="207.98" stroke="#d0b8d6" stroke-width="0.7"/>
<line x1="501.6" y1="184.54" x2="503.1" y2="184.54" stroke="#d0b8d6" stroke-width="0.7"/>
<line x1="501.6" y1="161.1" x2="503.1" y2="161.1" stroke="#d0b8d6" stroke-width="0.7"/>
<line x1="501.6" y1="278.3" x2="659.5" y2="278.3" stroke="#111" stroke-width="1"/>
<line x1="510.37" y1="278.3" x2="510.37" y2="276.5" stroke="#111" stroke-width="0.6"/>
<line x1="527.92" y1="278.3" x2="527.92" y2="276.5" stroke="#111" stroke-width="0.6"/>
<line x1="545.46" y1="278.3" x2="545.46" y2="276.5" stroke="#111" stroke-width="0.6"/>
<line x1="563.01" y1="278.3" x2="563.01" y2="276.5" stroke="#111" stroke-width="0.6"/>
<line x1="580.55" y1="278.3" x2="580.55" y2="276.5" stroke="#111" stroke-width="0.6"/>
<line x1="598.09" y1="278.3" x2="598.09" y2="276.5" stroke="#111" stroke-width="0.6"/>
<line x1="615.64" y1="278.3" x2="615.64" y2="276.5" stroke="#111" stroke-width="0.6"/>
<line x1="633.18" y1="278.3" x2="633.18" y2="276.5" stroke="#111" stroke-width="0.6"/>
<line x1="650.73" y1="278.3" x2="650.73" y2="276.5" stroke="#111" stroke-width="0.6"/>
<line x1="659.5" y1="160.6" x2="659.5" y2="278.8" stroke="#5656ad" stroke-width="0.95"/>
<line x1="658.1" y1="278.3" x2="659.5" y2="278.3" stroke="#5656ad" stroke-width="0.7"/>
<line x1="658.1" y1="258.77" x2="659.5" y2="258.77" stroke="#5656ad" stroke-width="0.7"/>
<line x1="658.1" y1="239.23" x2="659.5" y2="239.23" stroke="#5656ad" stroke-width="0.7"/>
<line x1="658.1" y1="219.7" x2="659.5" y2="219.7" stroke="#5656ad" stroke-width="0.7"/>
<line x1="658.1" y1="200.17" x2="659.5" y2="200.17" stroke="#5656ad" stroke-width="0.7"/>
<line x1="658.1" y1="180.63" x2="659.5" y2="180.63" stroke="#5656ad" stroke-width="0.7"/>
<line x1="658.1" y1="161.1" x2="659.5" y2="161.1" stroke="#5656ad" stroke-width="0.7"/>
<polyline fill="none" stroke="#3b3b9e" stroke-width="1.9" stroke-linejoin="round" points="510.37,268.19 527.92,277.08 545.46,277.23 563.01,277.32 580.55,277.37 598.09,277.61 615.64,277.66 633.18,277.67 650.73,277.7"/>
<circle cx="510.37" cy="268.19" r="2" fill="#3b3b9e"/>
<circle cx="527.92" cy="277.08" r="2" fill="#3b3b9e"/>
<circle cx="545.46" cy="277.23" r="2" fill="#3b3b9e"/>
<circle cx="563.01" cy="277.32" r="2" fill="#3b3b9e"/>
<circle cx="580.55" cy="277.37" r="2" fill="#3b3b9e"/>
<circle cx="598.09" cy="277.61" r="2" fill="#3b3b9e"/>
<circle cx="615.64" cy="277.66" r="2" fill="#3b3b9e"/>
<circle cx="633.18" cy="277.67" r="2" fill="#3b3b9e"/>
<circle cx="650.73" cy="277.7" r="2" fill="#3b3b9e"/>
<g font-size="6.9" fill="#dcc3e2" text-anchor="end">
<text x="500.2" y="281.2">0</text>
<text x="500.2" y="257.76">2000</text>
<text x="500.2" y="234.32">4000</text>
<text x="500.2" y="210.88">6000</text>
<text x="500.2" y="187.44">8000</text>
<text x="500.2" y="164">10000</text>
</g>
<g font-size="6.7" fill="#3b3b9e">
<text x="661.1" y="281.1">0.00</text>
<text x="661.1" y="261.57">0.01</text>
<text x="661.1" y="242.03">0.02</text>
<text x="661.1" y="222.5">0.03</text>
<text x="661.1" y="202.97">0.04</text>
<text x="661.1" y="183.43">0.05</text>
<text x="661.1" y="163.9">0.06</text>
</g>
<g font-size="7.1" fill="#111" text-anchor="middle">
<text x="510.37" y="285.1">MS1</text>
<text x="527.92" y="285.1">MS2</text>
<text x="545.46" y="285.1">MS3</text>
<text x="563.01" y="285.1">MS4</text>
<text x="580.55" y="285.1">MS5</text>
<text x="598.09" y="285.1">MS6</text>
<text x="615.64" y="285.1">MS7</text>
<text x="633.18" y="285.1">MS8</text>
<text x="650.73" y="285.1">MS9</text>
</g>
<text transform="translate(475.2,222.4) rotate(-90)" font-size="8.2" fill="#dcc3e2" text-anchor="middle">Number</text>
<text transform="translate(678,219.7) rotate(90)" font-size="8.4" fill="#3b3b9e" text-anchor="middle">Percentage</text>
</g>
<g>
<rect x="38.38" y="407.59" width="10.03" height="32.11" fill="#dcc3e2"/>
<rect x="54.18" y="411.65" width="10.03" height="28.05" fill="#dcc3e2"/>
<rect x="69.98" y="415.72" width="10.03" height="23.98" fill="#dcc3e2"/>
<rect x="85.78" y="421.14" width="10.03" height="18.56" fill="#dcc3e2"/>
<rect x="101.58" y="422.53" width="10.03" height="17.17" fill="#dcc3e2"/>
<rect x="117.38" y="422.56" width="10.03" height="17.14" fill="#dcc3e2"/>
<rect x="133.18" y="428.3" width="10.03" height="11.4" fill="#dcc3e2"/>
<rect x="148.98" y="428.96" width="10.03" height="10.74" fill="#dcc3e2"/>
<rect x="164.78" y="431.74" width="10.03" height="7.96" fill="#dcc3e2"/>
<rect x="180.58" y="434.94" width="10.03" height="4.76" fill="#dcc3e2"/>
<text x="43.4" y="405.29" font-size="5.9" fill="#dcc3e2" text-anchor="middle">2792</text>
<text x="59.2" y="409.35" font-size="5.9" fill="#dcc3e2" text-anchor="middle">2447</text>
<text x="75" y="413.42" font-size="5.9" fill="#dcc3e2" text-anchor="middle">2100</text>
<text x="90.8" y="418.84" font-size="5.9" fill="#dcc3e2" text-anchor="middle">1639</text>
<text x="106.6" y="420.23" font-size="5.9" fill="#dcc3e2" text-anchor="middle">1521</text>
<text x="122.4" y="420.26" font-size="5.9" fill="#dcc3e2" text-anchor="middle">1518</text>
<text x="138.2" y="426" font-size="5.9" fill="#dcc3e2" text-anchor="middle">1030</text>
<text x="154" y="426.66" font-size="5.9" fill="#dcc3e2" text-anchor="middle">974</text>
<text x="169.8" y="429.44" font-size="5.9" fill="#dcc3e2" text-anchor="middle">737</text>
<text x="185.6" y="432.64" font-size="5.9" fill="#dcc3e2" text-anchor="middle">465</text>
<line x1="35.5" y1="322.2" x2="193.5" y2="322.2" stroke="#222" stroke-width="1"/>
<line x1="35.5" y1="321.7" x2="35.5" y2="440.2" stroke="#d0b8d6" stroke-width="1.1"/>
<line x1="35.5" y1="439.7" x2="37" y2="439.7" stroke="#d0b8d6" stroke-width="0.7"/>
<line x1="35.5" y1="416.2" x2="37" y2="416.2" stroke="#d0b8d6" stroke-width="0.7"/>
<line x1="35.5" y1="392.7" x2="37" y2="392.7" stroke="#d0b8d6" stroke-width="0.7"/>
<line x1="35.5" y1="369.2" x2="37" y2="369.2" stroke="#d0b8d6" stroke-width="0.7"/>
<line x1="35.5" y1="345.7" x2="37" y2="345.7" stroke="#d0b8d6" stroke-width="0.7"/>
<line x1="35.5" y1="322.2" x2="37" y2="322.2" stroke="#d0b8d6" stroke-width="0.7"/>
<line x1="35.5" y1="439.7" x2="193.5" y2="439.7" stroke="#6e6e6e" stroke-width="1.6"/>
<line x1="43.4" y1="439.7" x2="43.4" y2="437.9" stroke="#111" stroke-width="0.6"/>
<line x1="59.2" y1="439.7" x2="59.2" y2="437.9" stroke="#111" stroke-width="0.6"/>
<line x1="75" y1="439.7" x2="75" y2="437.9" stroke="#111" stroke-width="0.6"/>
<line x1="90.8" y1="439.7" x2="90.8" y2="437.9" stroke="#111" stroke-width="0.6"/>
<line x1="106.6" y1="439.7" x2="106.6" y2="437.9" stroke="#111" stroke-width="0.6"/>
<line x1="122.4" y1="439.7" x2="122.4" y2="437.9" stroke="#111" stroke-width="0.6"/>
<line x1="138.2" y1="439.7" x2="138.2" y2="437.9" stroke="#111" stroke-width="0.6"/>
<line x1="154" y1="439.7" x2="154" y2="437.9" stroke="#111" stroke-width="0.6"/>
<line x1="169.8" y1="439.7" x2="169.8" y2="437.9" stroke="#111" stroke-width="0.6"/>
<line x1="185.6" y1="439.7" x2="185.6" y2="437.9" stroke="#111" stroke-width="0.6"/>
<line x1="193.5" y1="321.7" x2="193.5" y2="440.2" stroke="#5656ad" stroke-width="0.95"/>
<line x1="192.1" y1="439.7" x2="193.5" y2="439.7" stroke="#5656ad" stroke-width="0.7"/>
<line x1="192.1" y1="420.12" x2="193.5" y2="420.12" stroke="#5656ad" stroke-width="0.7"/>
<line x1="192.1" y1="400.53" x2="193.5" y2="400.53" stroke="#5656ad" stroke-width="0.7"/>
<line x1="192.1" y1="380.95" x2="193.5" y2="380.95" stroke="#5656ad" stroke-width="0.7"/>
<line x1="192.1" y1="361.37" x2="193.5" y2="361.37" stroke="#5656ad" stroke-width="0.7"/>
<line x1="192.1" y1="341.78" x2="193.5" y2="341.78" stroke="#5656ad" stroke-width="0.7"/>
<line x1="192.1" y1="322.2" x2="193.5" y2="322.2" stroke="#5656ad" stroke-width="0.7"/>
<polyline fill="none" stroke="#3b3b9e" stroke-width="1.9" stroke-linejoin="round" points="43.4,408.09 59.2,412 75,415.93 90.8,421.15 106.6,422.48 122.4,422.52 138.2,428.04 154,428.67 169.8,431.36 185.6,434.44"/>
<circle cx="43.4" cy="408.09" r="2" fill="#3b3b9e"/>
<circle cx="59.2" cy="412" r="2" fill="#3b3b9e"/>
<circle cx="75" cy="415.93" r="2" fill="#3b3b9e"/>
<circle cx="90.8" cy="421.15" r="2" fill="#3b3b9e"/>
<circle cx="106.6" cy="422.48" r="2" fill="#3b3b9e"/>
<circle cx="122.4" cy="422.52" r="2" fill="#3b3b9e"/>
<circle cx="138.2" cy="428.04" r="2" fill="#3b3b9e"/>
<circle cx="154" cy="428.67" r="2" fill="#3b3b9e"/>
<circle cx="169.8" cy="431.36" r="2" fill="#3b3b9e"/>
<circle cx="185.6" cy="434.44" r="2" fill="#3b3b9e"/>
<g font-size="6.9" fill="#dcc3e2" text-anchor="end">
<text x="34.1" y="442.6">0</text>
<text x="34.1" y="419.1">2000</text>
<text x="34.1" y="395.6">4000</text>
<text x="34.1" y="372.1">6000</text>
<text x="34.1" y="348.6">8000</text>
<text x="34.1" y="325.1">10000</text>
</g>
<g font-size="6.7" fill="#3b3b9e">
<text x="195.1" y="442.5">0.00</text>
<text x="195.1" y="422.92">0.01</text>
<text x="195.1" y="403.33">0.02</text>
<text x="195.1" y="383.75">0.03</text>
<text x="195.1" y="364.17">0.04</text>
<text x="195.1" y="344.58">0.05</text>
<text x="195.1" y="325">0.06</text>
</g>
<g font-size="7.1" fill="#111" text-anchor="middle">
<text x="43.4" y="446.5">TE1</text>
<text x="59.2" y="446.5">TE2</text>
<text x="75" y="446.5">TE3</text>
<text x="90.8" y="446.5">TE4</text>
<text x="106.6" y="446.5">TE5</text>
<text x="122.4" y="446.5">TE6</text>
<text x="138.2" y="446.5">TE7</text>
<text x="154" y="446.5">TE8</text>
<text x="169.8" y="446.5">TE9</text>
<text x="185.6" y="446.5">TE10</text>
</g>
<text transform="translate(11.5,380.95) rotate(-90)" font-size="8.2" fill="#dcc3e2" text-anchor="middle">Number</text>
<text transform="translate(212,380.95) rotate(90)" font-size="8.4" fill="#3b3b9e" text-anchor="middle">Percentage</text>
</g>
<g>
<rect x="276.6" y="334.73" width="14.61" height="106.17" fill="#dcc3e2"/>
<rect x="299.61" y="431.77" width="14.61" height="9.13" fill="#dcc3e2"/>
<rect x="322.63" y="431.69" width="14.61" height="9.21" fill="#dcc3e2"/>
<rect x="345.64" y="371.69" width="14.61" height="69.21" fill="#dcc3e2"/>
<rect x="368.66" y="412.17" width="14.61" height="28.73" fill="#dcc3e2"/>
<rect x="391.67" y="439.37" width="14.61" height="1.53" fill="#dcc3e2"/>
<rect x="414.69" y="410.49" width="14.61" height="30.41" fill="#dcc3e2"/>
<text x="283.91" y="332.43" font-size="5.9" fill="#dcc3e2" text-anchor="middle">71546</text>
<text x="306.92" y="429.47" font-size="5.9" fill="#dcc3e2" text-anchor="middle">6579</text>
<text x="329.94" y="429.39" font-size="5.9" fill="#dcc3e2" text-anchor="middle">6634</text>
<text x="352.95" y="369.39" font-size="5.9" fill="#dcc3e2" text-anchor="middle">46800</text>
<text x="375.96" y="409.87" font-size="5.9" fill="#dcc3e2" text-anchor="middle">19701</text>
<text x="398.98" y="437.07" font-size="5.9" fill="#dcc3e2" text-anchor="middle">1494</text>
<text x="421.99" y="408.19" font-size="5.9" fill="#dcc3e2" text-anchor="middle">20827</text>
<line x1="272.4" y1="321.4" x2="433.5" y2="321.4" stroke="#222" stroke-width="1"/>
<line x1="272.4" y1="320.9" x2="272.4" y2="441.4" stroke="#d0b8d6" stroke-width="1.1"/>
<line x1="272.4" y1="440.9" x2="273.9" y2="440.9" stroke="#d0b8d6" stroke-width="0.7"/>
<line x1="272.4" y1="425.96" x2="273.9" y2="425.96" stroke="#d0b8d6" stroke-width="0.7"/>
<line x1="272.4" y1="411.02" x2="273.9" y2="411.02" stroke="#d0b8d6" stroke-width="0.7"/>
<line x1="272.4" y1="396.09" x2="273.9" y2="396.09" stroke="#d0b8d6" stroke-width="0.7"/>
<line x1="272.4" y1="381.15" x2="273.9" y2="381.15" stroke="#d0b8d6" stroke-width="0.7"/>
<line x1="272.4" y1="366.21" x2="273.9" y2="366.21" stroke="#d0b8d6" stroke-width="0.7"/>
<line x1="272.4" y1="351.27" x2="273.9" y2="351.27" stroke="#d0b8d6" stroke-width="0.7"/>
<line x1="272.4" y1="336.34" x2="273.9" y2="336.34" stroke="#d0b8d6" stroke-width="0.7"/>
<line x1="272.4" y1="321.4" x2="273.9" y2="321.4" stroke="#d0b8d6" stroke-width="0.7"/>
<line x1="272.4" y1="440.9" x2="433.5" y2="440.9" stroke="#3a3a3a" stroke-width="1"/>
<line x1="283.91" y1="440.9" x2="283.91" y2="439.1" stroke="#111" stroke-width="0.6"/>
<line x1="306.92" y1="440.9" x2="306.92" y2="439.1" stroke="#111" stroke-width="0.6"/>
<line x1="329.94" y1="440.9" x2="329.94" y2="439.1" stroke="#111" stroke-width="0.6"/>
<line x1="352.95" y1="440.9" x2="352.95" y2="439.1" stroke="#111" stroke-width="0.6"/>
<line x1="375.96" y1="440.9" x2="375.96" y2="439.1" stroke="#111" stroke-width="0.6"/>
<line x1="398.98" y1="440.9" x2="398.98" y2="439.1" stroke="#111" stroke-width="0.6"/>
<line x1="421.99" y1="440.9" x2="421.99" y2="439.1" stroke="#111" stroke-width="0.6"/>
<line x1="433.5" y1="320.9" x2="433.5" y2="441.4" stroke="#5656ad" stroke-width="0.95"/>
<line x1="432.1" y1="440.9" x2="433.5" y2="440.9" stroke="#5656ad" stroke-width="0.7"/>
<line x1="432.1" y1="417" x2="433.5" y2="417" stroke="#5656ad" stroke-width="0.7"/>
<line x1="432.1" y1="393.1" x2="433.5" y2="393.1" stroke="#5656ad" stroke-width="0.7"/>
<line x1="432.1" y1="369.2" x2="433.5" y2="369.2" stroke="#5656ad" stroke-width="0.7"/>
<line x1="432.1" y1="345.3" x2="433.5" y2="345.3" stroke="#5656ad" stroke-width="0.7"/>
<line x1="432.1" y1="321.4" x2="433.5" y2="321.4" stroke="#5656ad" stroke-width="0.7"/>
<polyline fill="none" stroke="#3b3b9e" stroke-width="1.9" stroke-linejoin="round" points="283.91,342.06 306.92,431.81 329.94,431.74 352.95,376.25 375.96,413.68 398.98,438.84 421.99,412.13"/>
<circle cx="283.91" cy="342.06" r="2" fill="#3b3b9e"/>
<circle cx="306.92" cy="431.81" r="2" fill="#3b3b9e"/>
<circle cx="329.94" cy="431.74" r="2" fill="#3b3b9e"/>
<circle cx="352.95" cy="376.25" r="2" fill="#3b3b9e"/>
<circle cx="375.96" cy="413.68" r="2" fill="#3b3b9e"/>
<circle cx="398.98" cy="438.84" r="2" fill="#3b3b9e"/>
<circle cx="421.99" cy="412.13" r="2" fill="#3b3b9e"/>
<g font-size="6.9" fill="#dcc3e2" text-anchor="end">
<text x="271" y="443.8">0</text>
<text x="271" y="428.86">10000</text>
<text x="271" y="413.92">20000</text>
<text x="271" y="398.99">30000</text>
<text x="271" y="384.05">40000</text>
<text x="271" y="369.11">50000</text>
<text x="271" y="354.17">60000</text>
<text x="271" y="339.24">70000</text>
<text x="271" y="324.3">80000</text>
</g>
<g font-size="6.7" fill="#3b3b9e">
<text x="435.1" y="443.7">0.0</text>
<text x="435.1" y="419.8">0.1</text>
<text x="435.1" y="395.9">0.2</text>
<text x="435.1" y="372">0.3</text>
<text x="435.1" y="348.1">0.4</text>
<text x="435.1" y="324.2">0.5</text>
</g>
<g font-size="7.1" fill="#111" text-anchor="middle">
<text x="283.91" y="447.7">RF</text>
<text x="306.92" y="447.7">SA</text>
<text x="329.94" y="447.7">HC</text>
<text x="352.95" y="447.7">EC</text>
<text x="375.96" y="447.7">LC</text>
<text x="398.98" y="447.7">MS</text>
<text x="421.99" y="447.7">TE</text>
</g>
<text transform="translate(248,382.45) rotate(-90) scale(1,0.5)" font-size="8.8" fill="#dcc3e2" text-anchor="middle">Number</text>
<text transform="translate(449.1,381.15) rotate(90)" font-size="8.4" fill="#3b3b9e" text-anchor="middle">Percentage</text>
</g>
<text x="96.8" y="154" font-family='"Liberation Serif", serif' font-size="13" fill="#1a1a1a" textLength="31.1" lengthAdjust="spacing">(<tspan font-weight="bold">a</tspan>)RF</text>
<text x="334.2" y="153.8" font-family='"Liberation Serif", serif' font-size="13" fill="#1a1a1a" textLength="33.5" lengthAdjust="spacing">(<tspan font-weight="bold">b</tspan>)SA</text>
<text x="564.8" y="153.8" font-family='"Liberation Serif", serif' font-size="13" fill="#1a1a1a" textLength="35.1" lengthAdjust="spacing">(<tspan font-weight="bold">c</tspan>)HC</text>
<text x="95.3" y="304" font-family='"Liberation Serif", serif' font-size="13" fill="#1a1a1a" textLength="33.6" lengthAdjust="spacing">(<tspan font-weight="bold">d</tspan>)EC</text>
<text x="334.6" y="304" font-family='"Liberation Serif", serif' font-size="13" fill="#1a1a1a" textLength="32.8" lengthAdjust="spacing">(<tspan font-weight="bold">e</tspan>)LC</text>
<text x="566" y="304" font-family='"Liberation Serif", serif' font-size="13" fill="#1a1a1a" textLength="33.1" lengthAdjust="spacing">(f)MS</text>
<text x="96.4" y="464.5" font-family='"Liberation Serif", serif' font-size="13" fill="#1a1a1a" textLength="31.8" lengthAdjust="spacing">(<tspan font-weight="bold">g</tspan>)TE</text>
<text x="293.3" y="464.6" font-family='"Liberation Serif", serif' font-size="13.8" fill="#1a1a1a" textLength="115.9" lengthAdjust="spacing">(h)Evaluation index</text>
</svg>
</body></html>
